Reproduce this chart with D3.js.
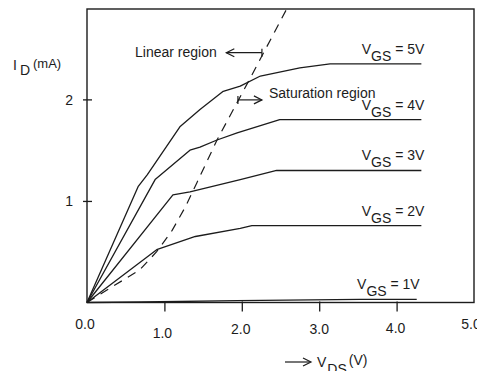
<!DOCTYPE html>
<html>
<head>
<meta charset="utf-8">
<script src="https://cdn.jsdelivr.net/npm/d3@7"></script>
<style>
  html, body { margin: 0; padding: 0; background: #fff; }
  svg { display: block; font-family: "Liberation Sans", Arial, sans-serif; }
</style>
</head>
<body>
<svg id="chart" width="477" height="371"></svg>
<script>
// ---- data (V_DS in volts, I_D in mA) ----
const xTickValues = [1, 2, 3, 4];
const xTickLabels = [0, 1, 2, 3, 4, 5];
const yTickValues = [1, 2];
const seriesNames = ["5V", "4V", "3V", "2V", "1V"];
const vgs5 = [[0,0],[0.66,1.14],[0.78,1.26],[1.20,1.73],[1.46,1.90],[1.76,2.08],[1.98,2.13],[2.24,2.23],[2.75,2.31],[3.14,2.35],[4.32,2.35]];
const vgs4 = [[0,0],[0.88,1.21],[1.33,1.50],[1.46,1.53],[1.68,1.60],[1.94,1.67],[2.49,1.80],[4.32,1.80]];
const vgs3 = [[0,0],[1.11,1.06],[1.33,1.09],[1.98,1.21],[2.45,1.30],[4.32,1.30]];
const vgs2 = [[0,0],[0.90,0.52],[1.40,0.65],[1.98,0.73],[2.13,0.757],[4.32,0.757]];
const vgs1 = [[0,0],[0.70,0.005],[1.94,0.018],[3.53,0.03],[4.26,0.03]];
const boundary = [[0,0],[0.30,0.143],[0.68,0.32],[0.90,0.50],[1.10,0.71],[1.27,0.94],[1.42,1.18],[1.68,1.60],[2.13,2.24],[2.58,2.89]];

const svg = d3.select("#chart");
const x = d3.scaleLinear().domain([0, 5]).range([87, 474]);
const y = d3.scaleLinear().domain([0, 2.89]).range([302.5, 9]);
const ink = "#1c1c1c";

// frame
svg.append("rect")
  .attr("x", x(0)).attr("y", y(2.89))
  .attr("width", x(5) - x(0)).attr("height", y(0) - y(2.89))
  .attr("fill", "none").attr("stroke", ink).attr("stroke-width", 1.4);

// x ticks
const xTickG = svg.append("g").attr("transform", `translate(0,${y(0)})`)
  .call(d3.axisBottom(x).tickValues(xTickValues).tickSize(9).tickFormat(""));
xTickG.select(".domain").remove();
xTickG.selectAll("line").attr("stroke", ink).attr("stroke-width", 1.3).attr("y1", -1);

// x tick labels
const xLabelShift = {0: [-2, -4], 1: [-2, 5], 2: [-1, 1], 3: [0, 1], 4: [-1, 0], 5: [-3, -4]};
svg.append("g").selectAll("text").data(xTickLabels).join("text")
  .attr("x", d => x(d) + xLabelShift[d][0])
  .attr("y", d => y(0) + 30 + xLabelShift[d][1])
  .attr("text-anchor", "middle")
  .attr("font-size", 14).attr("fill", ink)
  .text(d => d3.format(".1f")(d));

// y ticks
const yTickG = svg.append("g").attr("transform", `translate(${x(0)},0)`)
  .call(d3.axisLeft(y).tickValues(yTickValues).tickSize(4).tickFormat(d => d3.format("d")(d)));
yTickG.select(".domain").remove();
yTickG.selectAll("line").attr("stroke", ink).attr("stroke-width", 1.3).attr("x1", 5).attr("x2", -4);
yTickG.selectAll("text").attr("x", -14).attr("dy", "0.35em")
  .attr("font-size", 14).attr("fill", ink).attr("font-family", "Liberation Sans, Arial, sans-serif");

// curves
const line = d3.line().x(d => x(d[0])).y(d => y(d[1]));
const series = [vgs5, vgs4, vgs3, vgs2, vgs1];
svg.append("g").selectAll("path").data(series).join("path")
  .attr("d", line)
  .attr("fill", "none").attr("stroke", ink).attr("stroke-width", 1.3)
  .attr("stroke-linejoin", "round");

// boundary (dashed)
svg.append("path").attr("d", line(boundary))
  .attr("fill", "none").attr("stroke", ink).attr("stroke-width", 1.2)
  .attr("stroke-dasharray", "9,7");

// series labels
const labels = svg.append("g").selectAll("text").data(series).join("text")
  .attr("x", d => x(d[d.length - 1][0]) + 3)
  .attr("y", d => y(d[d.length - 1][1]) - 10)
  .attr("text-anchor", "end")
  .attr("font-size", 14).attr("fill", ink);
labels.append("tspan").text("V");
labels.append("tspan").attr("dy", 7).attr("font-size", 14).text("GS");
labels.append("tspan").attr("dy", -7).text((d, i) => " = " + seriesNames[i]);

// axis titles
const yTitle = svg.append("text").attr("x", 13).attr("y", 70).attr("fill", ink).attr("font-size", 14);
yTitle.append("tspan").text("I");
yTitle.append("tspan").attr("dx", 3).attr("dy", 5).attr("font-size", 14).text("D");
yTitle.append("tspan").attr("dx", 3).attr("dy", -7).attr("font-size", 13).text("(mA)");

const arrowHead = (g, x0, yy, dir) => {
  g.append("path")
    .attr("d", `M${x0 + dir * 8},${yy - 4} L${x0},${yy} L${x0 + dir * 8},${yy + 4}`)
    .attr("fill", "none").attr("stroke", ink).attr("stroke-width", 1.2);
};

const xt = svg.append("g");
xt.append("line").attr("x1", 285).attr("x2", 310).attr("y1", 362).attr("y2", 362)
  .attr("stroke", ink).attr("stroke-width", 1.2);
arrowHead(xt, 311, 362, -1);
const xTitle = svg.append("text").attr("x", 317).attr("y", 367).attr("fill", ink).attr("font-size", 14);
xTitle.append("tspan").text("V");
xTitle.append("tspan").attr("dx", 1).attr("dy", 7).attr("font-size", 14).text("DS");
xTitle.append("tspan").attr("dx", 2).attr("dy", -9).attr("font-size", 14).text("(V)");

// annotations
const ann = svg.append("g");
ann.append("text").attr("x", x(0.62)).attr("y", y(2.42)).attr("font-size", 14).attr("fill", ink).text("Linear region");
ann.append("line").attr("x1", x(1.80)).attr("x2", x(2.26)).attr("y1", y(2.46)).attr("y2", y(2.46))
  .attr("stroke", ink).attr("stroke-width", 1.2);
arrowHead(ann, x(1.80), y(2.46), 1);
ann.append("line").attr("x1", x(2.26)).attr("x2", x(2.26)).attr("y1", y(2.46) - 4).attr("y2", y(2.46) + 4)
  .attr("stroke", ink).attr("stroke-width", 1.2);

ann.append("text").attr("x", x(2.35)).attr("y", y(2.01)).attr("font-size", 14).attr("fill", ink).text("Saturation region");
ann.append("line").attr("x1", x(1.95)).attr("x2", x(2.26)).attr("y1", y(1.995)).attr("y2", y(1.995))
  .attr("stroke", ink).attr("stroke-width", 1.2);
arrowHead(ann, x(2.26), y(1.995), -1);
ann.append("line").attr("x1", x(1.95)).attr("x2", x(1.95)).attr("y1", y(1.995) - 4).attr("y2", y(1.995) + 4)
  .attr("stroke", ink).attr("stroke-width", 1.2);
</script>
</body>
</html>
